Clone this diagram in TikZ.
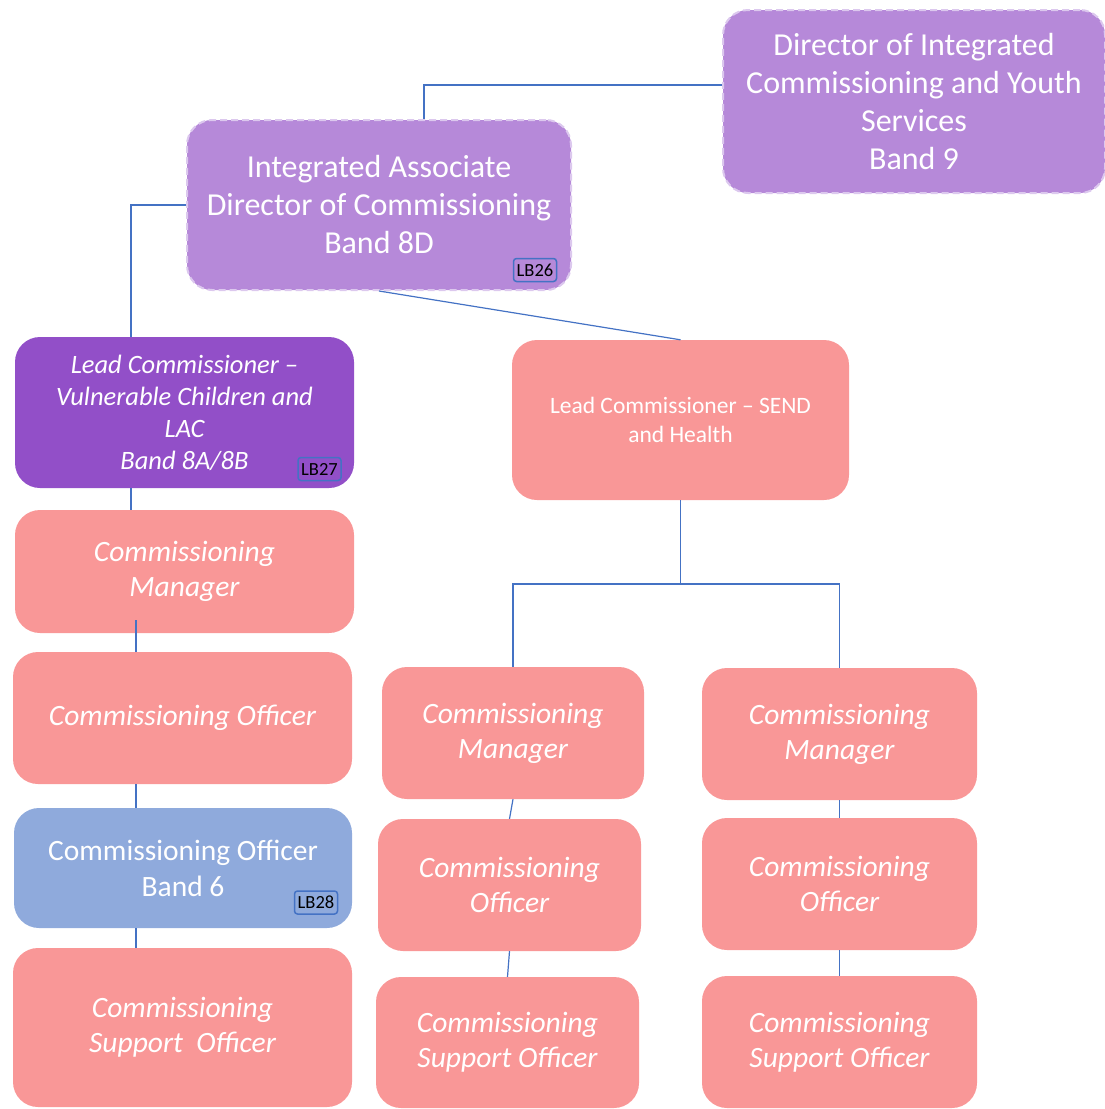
\documentclass[tikz,border=0pt]{standalone}
\usepackage{fontspec}
\setmainfont{Carlito}
\usetikzlibrary{positioning}

\definecolor{lilac}{HTML}{B689D9}
\definecolor{violet}{HTML}{924FC8}
\definecolor{salmon}{HTML}{F99797}
\definecolor{skyblue}{HTML}{8FAADC}
\definecolor{linkblue}{HTML}{4472C4}
\definecolor{dashpale}{HTML}{DCC8EE}

\tikzset{
	post/.style = {rectangle, rounded corners=25pt, inner sep=0pt, align=center,
		text=white, draw=none},
	dirpost/.style = {post, fill=lilac, draw=dashpale, line width=2pt,
		dash pattern=on 7pt off 4pt, font=\fontsize{32}{38}\selectfont},
	leadpost/.style = {post, fill=violet, font=\itshape\fontsize{26.5}{32}\selectfont},
	teampost/.style = {post, fill=salmon, font=\itshape\fontsize{29.5}{35}\selectfont},
	bandpost/.style = {post, fill=skyblue, font=\fontsize{29.5}{36}\selectfont},
	tag/.style = {rectangle, rounded corners=3pt, draw=linkblue, line width=1.5pt,
		text=black, inner sep=0pt, minimum width=43pt, minimum height=23pt,
		font=\fontsize{18.5}{18.5}\selectfont},
	link/.style = {draw=linkblue, line width=1.2pt}
}

\begin{document}
\begin{tikzpicture}[x=1pt, y=-1pt]
	\useasboundingbox (0,0) rectangle (1105,1109);

	% top of the chart
	\node[dirpost, minimum width=382pt, minimum height=183pt](dir) at (914,101.5)
		{Director of Integrated\\Commissioning and Youth\\Services\\Band 9};
	\node[dirpost, minimum width=384pt, minimum height=170pt](iad) at (379,205)
		{Integrated Associate\\Director of Commissioning\\Band 8D};
	\node[tag, fill=lilac](lbA) at (535,270) {LB26};

	% left column
	\node[leadpost, minimum width=339pt, minimum height=151pt](lcvc) at (184.5,412.5)
		{Lead Commissioner --\\Vulnerable Children and\\LAC\\Band 8A/8B};
	\node[tag, fill=violet](lbB) at (319.5,469) {LB27};
	\node[teampost, minimum width=339pt, minimum height=123pt](cmA) at (184.5,571.5)
		{Commissioning\\Manager};
	\node[teampost, minimum width=339pt, minimum height=132pt](coA) at (182.5,718)
		{Commissioning Officer};
	\node[bandpost, minimum width=338pt, minimum height=120pt](coBand) at (183,868)
		{Commissioning Officer\\Band 6};
	\node[tag, fill=skyblue](lbC) at (316,902.5) {LB28};
	\node[teampost, minimum width=339pt, minimum height=159pt](csoA) at (182.5,1027.5)
		{Commissioning\\Support\ \ Officer};

	% right part
	\node[post, fill=salmon, font=\fontsize{23.5}{29}\selectfont,
		minimum width=337pt, minimum height=160pt](lcsend) at (680.5,420)
		{Lead Commissioner -- SEND\\and Health};
	\node[teampost, minimum width=262pt, minimum height=132pt](cmB) at (513,733)
		{Commissioning\\Manager};
	\node[teampost, minimum width=263pt, minimum height=132pt](coB) at (509.5,885)
		{Commissioning\\Officer};
	\node[teampost, minimum width=263pt, minimum height=131pt](csoB) at (507.5,1042.5)
		{Commissioning\\Support Officer};
	\node[teampost, minimum width=275pt, minimum height=132pt](cmC) at (839.5,734)
		{Commissioning\\Manager};
	\node[teampost, minimum width=275pt, minimum height=132pt](coC) at (839.5,884)
		{Commissioning\\Officer};
	\node[teampost, minimum width=275pt, minimum height=132pt](csoC) at (839.5,1042)
		{Commissioning\\Support Officer};

	% connectors
	\draw[link] ([yshift=16.5pt]dir.west) -| ([xshift=45pt]iad.north);
	\draw[link] (iad.west) -| ([xshift=-53.5pt]lcvc.north);
	\draw[link] (iad.south) -- (lcsend.north);
	\draw[link] ([xshift=-53.5pt]lcvc.south) -- ([xshift=-53.5pt]cmA.north);
	\draw[link] ([xshift=-48.5pt,yshift=13pt]cmA.south) -- ([xshift=-46.5pt]coA.north);
	\draw[link] ([xshift=-46.5pt]coA.south) -- ([xshift=-47pt]coBand.north);
	\draw[link] ([xshift=-47pt]coBand.south) -- ([xshift=-46.5pt]csoA.north);

	\coordinate (split) at (680.5,584);
	\draw[link] (lcsend.south) -- (split) -| (cmB.north);
	\draw[link] (split) -| (cmC.north);
	\draw[link] (cmB.south) -- (coB.north);
	\draw[link] (coB.south) -- (csoB.north);
	\draw[link] (cmC.south) -- (coC.north);
	\draw[link] (coC.south) -- (csoC.north);
\end{tikzpicture}
\end{document}
